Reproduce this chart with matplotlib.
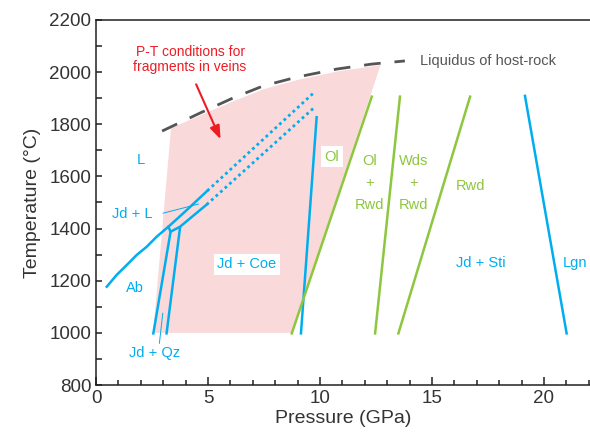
import matplotlib.pyplot as plt
from matplotlib.ticker import MultipleLocator

plt.rcParams["font.family"] = ["Liberation Sans", "DejaVu Sans"]

BLUE = "#00aeef"
GREEN = "#8dc63f"
PINK = "#f9d9da"
RED = "#ed1c24"
DARK = "#555555"
AXIS = "#231f20"

# P-T field of the vein fragments (GPa, degC)
field_p = [2.55, 3.35, 4.6, 6.1, 7.5, 9.0, 10.8, 12.7, 8.75]
field_t = [1000, 1785, 1832, 1887, 1935, 1970, 2003, 2027, 1000]

# liquidus of the host rock
liq_p = [2.95, 4.64, 6.12, 7.46, 8.97, 10.76, 12.32, 13.79]
liq_t = [1774, 1843, 1901, 1947, 1981, 2012, 2031, 2043]

# Ab = Jd + Qz melting curve and Jd + L field
ab_p = [0.48, 0.92, 1.37, 1.82, 2.26, 2.71, 3.23, 3.90, 4.97]
ab_t = [1177, 1222, 1260, 1299, 1330, 1369, 1407, 1459, 1545]
ab_dot_p = [4.97, 9.70]
ab_dot_t = [1545, 1919]

jdl_p = [3.33, 3.75, 4.94]
jdl_t = [1388, 1407, 1492]
jdl_dot_p = [4.94, 9.70]
jdl_dot_t = [1492, 1861]

qz_p = [3.23, 3.33, 2.56]
qz_t = [1407, 1388, 998]
coe_p = [3.75, 3.15]
coe_t = [1403, 998]

sti_p = [9.85, 9.15]
sti_t = [1827, 998]

lgn_p = [19.15, 21.01]
lgn_t = [1909, 998]

# olivine / wadsleyite / ringwoodite boundaries
green_lines = [
    ([12.31, 8.74], [1906, 998]),
    ([13.57, 12.46], [1906, 998]),
    ([16.70, 13.50], [1906, 998]),
]

fig = plt.figure(figsize=(5.9, 4.41), dpi=100)
ax = fig.add_axes([96 / 590, 56 / 441, 22.1 * 22.4 / 590, 365 / 441])

ax.fill(field_p, field_t, color=PINK, lw=0, zorder=1)
ax.plot(liq_p, liq_t, color=DARK, lw=2, dashes=(6, 5), zorder=3)

ax.plot(ab_p, ab_t, color=BLUE, lw=1.8, zorder=4, solid_joinstyle="round")
ax.plot(ab_dot_p, ab_dot_t, color=BLUE, lw=2, linestyle=(0, (1, 1.2)), zorder=4)
ax.plot(jdl_p, jdl_t, color=BLUE, lw=1.8, zorder=4)
ax.plot(jdl_dot_p, jdl_dot_t, color=BLUE, lw=2, linestyle=(0, (1, 1.2)), zorder=4)
ax.plot(qz_p, qz_t, color=BLUE, lw=1.8, zorder=4)
ax.plot(coe_p, coe_t, color=BLUE, lw=1.8, zorder=4)
ax.plot(sti_p, sti_t, color=BLUE, lw=1.8, zorder=4)
ax.plot(lgn_p, lgn_t, color=BLUE, lw=1.8, zorder=4)
for gp, gt in green_lines:
    ax.plot(gp, gt, color=GREEN, lw=1.8, zorder=4)

# leader lines
ax.plot([3.0, 4.57], [1459, 1494], color=BLUE, lw=0.7, zorder=4)
ax.plot([2.83, 2.98], [960, 1075], color=BLUE, lw=0.7, zorder=4)

fs = 10.5
ax.text(2.0, 1663, "L", color=BLUE, fontsize=fs, ha="center", va="center")
ax.text(1.62, 1455, "Jd + L", color=BLUE, fontsize=fs, ha="center", va="center")
ax.text(1.74, 1171, "Ab", color=BLUE, fontsize=fs, ha="center", va="center")
ax.text(2.6, 921, "Jd + Qz", color=BLUE, fontsize=fs, ha="center", va="center")
ax.text(6.73, 1264, "Jd + Coe", color=BLUE, fontsize=fs, ha="center", va="center",
        zorder=5, bbox=dict(facecolor="white", edgecolor="none", pad=2.5))
ax.text(10.52, 1676, "Ol", color=GREEN, fontsize=fs, ha="center", va="center",
        zorder=5, bbox=dict(facecolor="white", edgecolor="none", pad=2.5))
ax.text(12.23, 1575, "Ol\n+\nRwd", color=GREEN, fontsize=fs, ha="center",
        va="center", linespacing=1.75)
ax.text(14.17, 1575, "Wds\n+\nRwd", color=GREEN, fontsize=fs, ha="center",
        va="center", linespacing=1.75)
ax.text(16.7, 1563, "Rwd", color=GREEN, fontsize=fs, ha="center", va="center")
ax.text(17.2, 1267, "Jd + Sti", color=BLUE, fontsize=fs, ha="center", va="center")
ax.text(21.38, 1269, "Lgn", color=BLUE, fontsize=fs, ha="center", va="center")
ax.text(14.46, 2043, "Liquidus of host-rock", color=DARK, fontsize=fs,
        ha="left", va="center")

ax.text(4.2, 2049, "P-T conditions for\nfragments in veins", color=RED,
        fontsize=10, ha="center", va="center", linespacing=1.15)
ax.annotate("", xy=(5.61, 1733), xytext=(4.42, 1963),
            arrowprops=dict(arrowstyle="-|>,head_length=0.8,head_width=0.3",
                            color=RED, lw=1.5), zorder=6)

ax.set_xlim(0, 22.1)
ax.set_ylim(800, 2200)
ax.xaxis.set_major_locator(MultipleLocator(5))
ax.xaxis.set_minor_locator(MultipleLocator(1))
ax.yaxis.set_major_locator(MultipleLocator(200))
ax.yaxis.set_minor_locator(MultipleLocator(100))
ax.tick_params(which="both", direction="in", colors=AXIS, labelsize=13.5,
               width=1.1, top=False, right=False)
ax.tick_params(axis="x", which="major", length=6)
ax.tick_params(axis="x", which="minor", length=3.8)
ax.tick_params(axis="y", which="both", length=4.5)
for lab in ax.get_xticklabels() + ax.get_yticklabels():
    lab.set_color("#333333")
for side in ["left", "bottom", "top"]:
    ax.spines[side].set_color(AXIS)
    ax.spines[side].set_linewidth(1.1)
ax.spines["right"].set_visible(False)

ax.set_xlabel("Pressure (GPa)", fontsize=14, color="#333333", labelpad=2)
ax.set_ylabel("Temperature (°C)", fontsize=14, color="#333333", labelpad=6)

fig.savefig("out.png", dpi=100)
